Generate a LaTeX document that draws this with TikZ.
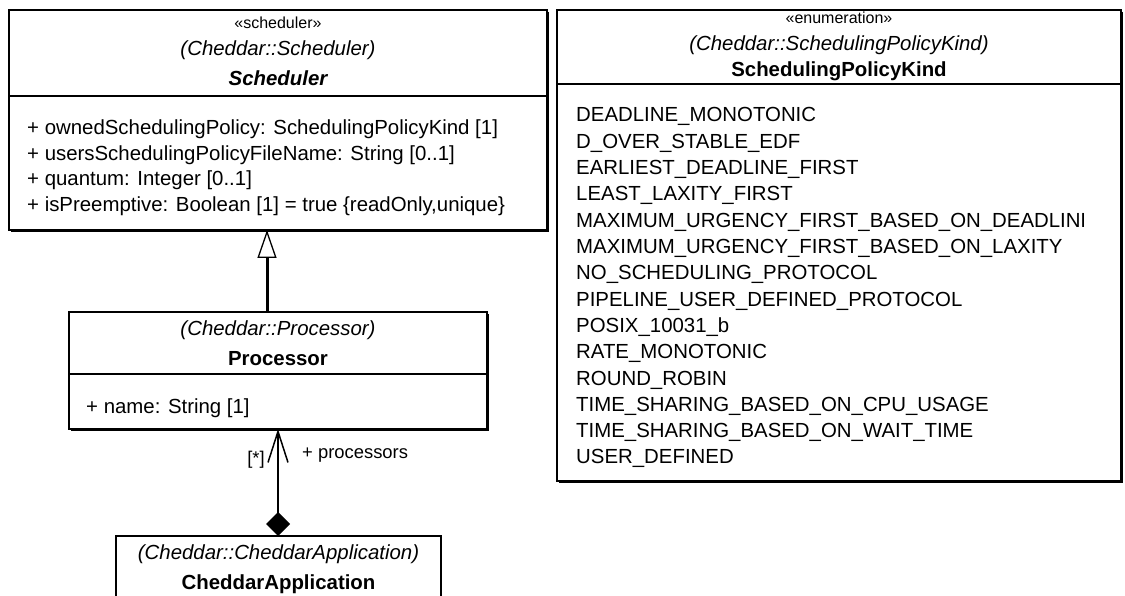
\documentclass[tikz,border=0pt]{standalone}
\usepackage{fontspec}
\setmainfont{Liberation Sans}
\usetikzlibrary{arrows.meta}
\begin{document}
\begin{tikzpicture}[x=1pt,y=-1pt,
  umlbox/.style={draw, line width=1.1pt, fill=white, inner sep=0pt, outer sep=0pt, anchor=north west},
  shadowline/.style={line width=1.6pt},
  sepline/.style={line width=1.1pt},
  txt/.style={font=\fontsize{20.4}{24}\selectfont, inner sep=0pt, anchor=base west},
  ctxt/.style={font=\fontsize{20.4}{24}\selectfont, inner sep=0pt, anchor=base},
  ital/.style={ctxt, font=\fontsize{20.4}{24}\selectfont\itshape},
  bold/.style={ctxt, font=\fontsize{20.4}{24}\selectfont\bfseries},
  boldital/.style={ctxt, font=\fontsize{20.4}{24}\selectfont\bfseries\itshape},
  stereo/.style={ctxt, font=\fontsize{16}{19}\selectfont},
  lbl/.style={inner sep=0pt, font=\fontsize{18.4}{22}\selectfont},
  gen/.style={line width=3pt, -{Triangle[open, length=28pt, width=19pt, line width=1.3pt]}},
  comp/.style={line width=1.5pt, {Diamond[length=24pt, width=24pt]}-{Straight Barb[length=31pt, width=20pt, line width=1.5pt]}}
]
\useasboundingbox[fill=white] (0,0) rectangle (1125,596);

% ---------- Scheduler ----------
\node[umlbox, minimum width=538pt, minimum height=220pt] (sched) at (9,10) {};
\draw[sepline] (9,96) -- (547,96);
\draw[shadowline] ([shift={(1pt,-2pt)}]sched.north east) -- ([shift={(1pt,-1pt)}]sched.south east) -- ([shift={(2pt,-1pt)}]sched.south west);
\node[stereo] (s1) at (278,29) {«scheduler»};
\node[ital] (s2) at (278,56) {(Cheddar::Scheduler)};
\node[boldital] (s3) at (278,86) {Scheduler};
\node[txt] (sa1) at (27,135) {+ ownedSchedulingPolicy: SchedulingPolicyKind [1]};
\node[txt] (sa2) at (27,160.5) {+ usersSchedulingPolicyFileName: String [0..1]};
\node[txt] (sa3) at (27,186) {+ quantum: Integer [0..1]};
\node[txt] (sa4) at (27,211.5) {+ isPreemptive: Boolean [1] = true \{readOnly,unique\}};

% ---------- SchedulingPolicyKind ----------
\node[umlbox, minimum width=564pt, minimum height=471pt] (enum) at (557,10) {};
\draw[sepline] (557,84) -- (1121,84);
\draw[shadowline] ([shift={(1pt,-2pt)}]enum.north east) -- ([shift={(1pt,-1pt)}]enum.south east) -- ([shift={(2pt,-1pt)}]enum.south west);
\node[stereo] (e1) at (839,24) {«enumeration»};
\node[ital] (e2) at (839,51) {(Cheddar::SchedulingPolicyKind)};
\node[bold] (e3) at (839,77) {SchedulingPolicyKind};
\begin{scope}
\clip (557,84) rectangle (1083,481);
\node[txt] (l1) at (576,122) {DEADLINE\_MONOTONIC};
\node[txt] (l2) at (576,148.3) {D\_OVER\_STABLE\_EDF};
\node[txt] (l3) at (576,174.6) {EARLIEST\_DEADLINE\_FIRST};
\node[txt] (l4) at (576,200.9) {LEAST\_LAXITY\_FIRST};
\node[txt] (l5) at (576,227.2) {MAXIMUM\_URGENCY\_FIRST\_BASED\_ON\_DEADLINE};
\node[txt] (l6) at (576,253.5) {MAXIMUM\_URGENCY\_FIRST\_BASED\_ON\_LAXITY};
\node[txt] (l7) at (576,279.8) {NO\_SCHEDULING\_PROTOCOL};
\node[txt] (l8) at (576,306.1) {PIPELINE\_USER\_DEFINED\_PROTOCOL};
\node[txt] (l9) at (576,332.4) {POSIX\_10031\_b};
\node[txt] (l10) at (576,358.7) {RATE\_MONOTONIC};
\node[txt] (l11) at (576,385.0) {ROUND\_ROBIN};
\node[txt] (l12) at (576,411.3) {TIME\_SHARING\_BASED\_ON\_CPU\_USAGE};
\node[txt] (l13) at (576,437.6) {TIME\_SHARING\_BASED\_ON\_WAIT\_TIME};
\node[txt] (l14) at (576,463.9) {USER\_DEFINED};
\end{scope}

% ---------- Processor ----------
\node[umlbox, minimum width=418pt, minimum height=117pt] (proc) at (69,312) {};
\draw[sepline] (69,374) -- (487,374);
\draw[shadowline] ([shift={(1pt,-2pt)}]proc.north east) -- ([shift={(1pt,-1pt)}]proc.south east) -- ([shift={(2pt,-1pt)}]proc.south west);
\node[ital] (p1) at (278,335) {(Cheddar::Processor)};
\node[bold] (p2) at (278,365) {Processor};
\node[txt] (pa1) at (86,413) {+ name: String [1]};

% ---------- CheddarApplication ----------
\node[umlbox, minimum width=325pt, minimum height=90pt] (app) at (116,536) {};
\node[ital] (a1) at (278.5,559) {(Cheddar::CheddarApplication)};
\node[bold] (a2) at (278.5,589) {CheddarApplication};

% ---------- connectors ----------
\coordinate (gx) at (267,0);
\draw[gen] (gx |- proc.north) -- (gx |- sched.south);
\coordinate (cx) at (278,0);
\draw[comp] (cx |- app.north) -- (cx |- proc.south);
\node[lbl, anchor=base] (mult) at (256,464) {[*]};
\node[lbl, anchor=base west] (role) at (302,458) {+ processors};
\end{tikzpicture}
\end{document}
